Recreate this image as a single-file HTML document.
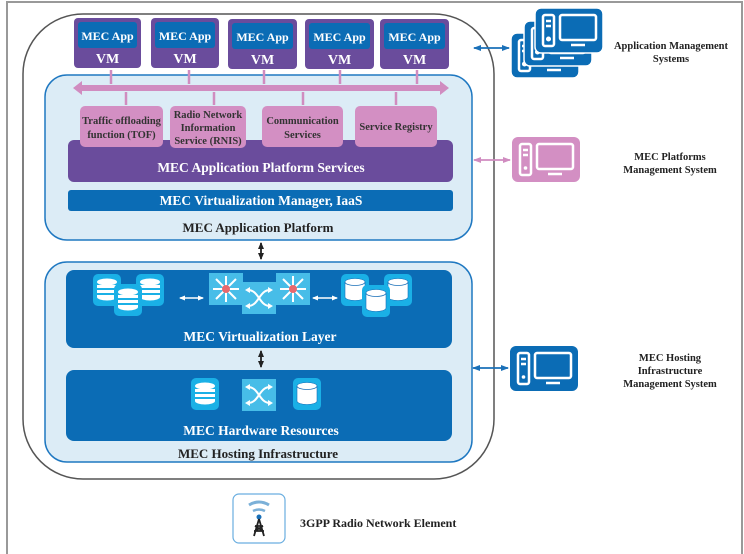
<!DOCTYPE html>
<html><head><meta charset="utf-8"><style>
html,body{margin:0;padding:0;background:#fff}
svg{display:block}
text{font-family:"Liberation Serif",serif;font-weight:bold}
</style></head><body>
<svg width="744" height="554" viewBox="0 0 744 554" xmlns="http://www.w3.org/2000/svg">
<defs>
<marker id="ab" markerUnits="userSpaceOnUse" markerWidth="8" markerHeight="8" refX="7" refY="4" orient="auto-start-reverse"><path d="M0,1 L8,4 L0,7 z" fill="#1a70b8"/></marker>
<marker id="ap" markerUnits="userSpaceOnUse" markerWidth="8" markerHeight="8" refX="7" refY="4" orient="auto-start-reverse"><path d="M0,1 L8,4 L0,7 z" fill="#d08cc0"/></marker>
<marker id="ak" markerUnits="userSpaceOnUse" markerWidth="7" markerHeight="7" refX="6" refY="3.5" orient="auto-start-reverse"><path d="M0,0.5 L7,3.5 L0,6.5 z" fill="#222"/></marker>
<marker id="aw" markerUnits="userSpaceOnUse" markerWidth="6" markerHeight="6" refX="5" refY="3" orient="auto-start-reverse"><path d="M0,0.5 L6,3 L0,5.5 z" fill="#fff"/></marker>
<g id="db"><rect x="0" y="0" width="28" height="32" rx="5" fill="#1ab0e6"/><ellipse cx="14" cy="8" rx="10" ry="3.5" fill="#fff"/><rect x="4" y="11" width="20" height="3" fill="#fff"/><rect x="4" y="16" width="20" height="3" fill="#fff"/><path d="M4,21 h20 v2 a10,3.5 0 0 1 -20,0z" fill="#fff"/></g>
<g id="cy"><rect x="0" y="0" width="28" height="32" rx="5" fill="#1ab0e6"/><path d="M4,8 a10,3.5 0 0 1 20,0 v15 a10,3.5 0 0 1 -20,0z" fill="#fff" stroke="#1a70b8" stroke-width="0.6"/><path d="M4,8 a10,3.5 0 0 0 20,0" fill="none" stroke="#1a70b8" stroke-width="0.8"/></g>
<g id="sw"><rect x="0" y="0" width="34" height="32" fill="#47bde8"/><path d="M6,8 C17,8 17,24 28,24 M6,24 C17,24 17,8 28,8" stroke="#fff" stroke-width="2" fill="none"/><path d="M3,8 l5,-3 v6z M3,24 l5,-3 v6z M31,8 l-5,-3 v6z M31,24 l-5,-3 v6z" fill="#fff"/></g>
<g id="rt"><rect x="0" y="0" width="34" height="32" fill="#47bde8"/><g stroke="#fff" stroke-width="2"><path d="M17,16 L17,3 M17,16 L17,29 M17,16 L4,16 M17,16 L30,16 M17,16 L7,6 M17,16 L27,6 M17,16 L7,26 M17,16 L27,26"/></g><circle cx="17" cy="16" r="4" fill="#e8686e"/></g>
<g id="pc"><rect x="0" y="0" width="68" height="45" rx="6"/><g fill="none" stroke="#fff" stroke-width="2.5"><rect x="8" y="7" width="11" height="31" rx="2"/><rect x="25" y="7" width="36" height="25" rx="2"/><path d="M36,37 h14"/></g><path d="M11,13 h5 M11,18 h5" stroke="#fff" stroke-width="2.5"/><circle cx="13.5" cy="31" r="1.8" fill="#fff"/></g>
</defs>
<rect x="7" y="2" width="735" height="560" fill="none" stroke="#999" stroke-width="2"/>
<rect x="23" y="14" width="471" height="465" rx="60" fill="#fff" stroke="#555" stroke-width="1.5"/>
<rect x="45" y="75" width="427" height="165" rx="22" fill="#dcecf6" stroke="#1f78c1" stroke-width="1.5"/>
<g font-size="12" fill="#fff" text-anchor="middle">
<rect x="74" y="18" width="67" height="50" rx="4" fill="#6a4c9c"/><rect x="78" y="22" width="59" height="26" rx="3" fill="#0b6cb5"/><text x="107.5" y="40" fill="#fff">MEC App</text><text x="107.5" y="63" font-size="14" fill="#fff">VM</text>
<rect x="151" y="18" width="68" height="50" rx="4" fill="#6a4c9c"/><rect x="155" y="22" width="60" height="26" rx="3" fill="#0b6cb5"/><text x="185" y="40" fill="#fff">MEC App</text><text x="185" y="63" font-size="14" fill="#fff">VM</text>
<rect x="228" y="19" width="69" height="50" rx="4" fill="#6a4c9c"/><rect x="232" y="23" width="61" height="26" rx="3" fill="#0b6cb5"/><text x="262.5" y="41" fill="#fff">MEC App</text><text x="262.5" y="64" font-size="14" fill="#fff">VM</text>
<rect x="305" y="19" width="69" height="50" rx="4" fill="#6a4c9c"/><rect x="309" y="23" width="61" height="26" rx="3" fill="#0b6cb5"/><text x="339.5" y="41" fill="#fff">MEC App</text><text x="339.5" y="64" font-size="14" fill="#fff">VM</text>
<rect x="380" y="19" width="69" height="50" rx="4" fill="#6a4c9c"/><rect x="384" y="23" width="61" height="26" rx="3" fill="#0b6cb5"/><text x="414.5" y="41" fill="#fff">MEC App</text><text x="414.5" y="64" font-size="14" fill="#fff">VM</text>
</g>
<g stroke="#d08cc0" stroke-width="2.5">
<line x1="111" y1="70" x2="111" y2="84"/><line x1="189" y1="70" x2="189" y2="84"/><line x1="264" y1="70" x2="264" y2="84"/><line x1="340" y1="70" x2="340" y2="84"/><line x1="417" y1="70" x2="417" y2="84"/>
<line x1="126" y1="92" x2="126" y2="105"/><line x1="214" y1="92" x2="214" y2="105"/><line x1="303" y1="92" x2="303" y2="105"/><line x1="396" y1="92" x2="396" y2="105"/>
</g>
<rect x="80" y="85" width="362" height="6" fill="#d08cc0"/>
<path d="M73,88 L82,81 L82,95z M449,88 L440,81 L440,95z" fill="#d08cc0"/>
<rect x="68" y="140" width="385" height="42" rx="6" fill="#6a4c9c"/>
<text x="261" y="172" font-size="13.5" fill="#fff" text-anchor="middle">MEC Application Platform Services</text>
<g fill="#d38fc3"><rect x="80" y="106" width="83" height="41" rx="5"/><rect x="170" y="106" width="76" height="42" rx="5"/><rect x="262" y="106" width="81" height="41" rx="5"/><rect x="355" y="106" width="82" height="41" rx="5"/></g>
<g font-size="10.5" fill="#333" text-anchor="middle">
<text x="121.5" y="124">Traffic offloading</text><text x="121.5" y="138">function (TOF)</text>
<text x="208" y="118">Radio Network</text><text x="208" y="131">Information</text><text x="208" y="144">Service (RNIS)</text>
<text x="302.5" y="124">Communication</text><text x="302.5" y="138">Services</text>
<text x="396" y="130">Service Registry</text>
</g>
<rect x="68" y="190" width="385" height="21" rx="3" fill="#0b6cb5"/>
<text x="261" y="205" font-size="13.5" fill="#fff" text-anchor="middle">MEC Virtualization Manager, IaaS</text>
<text x="258" y="232" font-size="13" fill="#222" text-anchor="middle">MEC Application Platform</text>
<line x1="261" y1="243" x2="261" y2="259" stroke="#222" stroke-width="1.8" marker-start="url(#ak)" marker-end="url(#ak)"/>
<rect x="45" y="262" width="427" height="200" rx="22" fill="#dcecf6" stroke="#1f78c1" stroke-width="1.5"/>
<rect x="66" y="270" width="386" height="78" rx="8" fill="#0b6cb5"/>
<use href="#db" x="93" y="274"/><use href="#db" x="136" y="274"/><use href="#db" x="114" y="284"/>
<line x1="180" y1="298" x2="203" y2="298" stroke="#fff" stroke-width="1.5" marker-start="url(#aw)" marker-end="url(#aw)"/>
<use href="#rt" x="209" y="273"/><use href="#rt" x="276" y="273"/><use href="#sw" x="242" y="282"/>
<line x1="313" y1="298" x2="337" y2="298" stroke="#fff" stroke-width="1.5" marker-start="url(#aw)" marker-end="url(#aw)"/>
<use href="#cy" x="341" y="274"/><use href="#cy" x="384" y="274"/><use href="#cy" x="362" y="285"/>
<text x="260" y="341" font-size="13.5" fill="#fff" text-anchor="middle">MEC Virtualization Layer</text>
<line x1="261" y1="351" x2="261" y2="367" stroke="#222" stroke-width="1.8" marker-start="url(#ak)" marker-end="url(#ak)"/>
<rect x="66" y="370" width="386" height="71" rx="8" fill="#0b6cb5"/>
<use href="#db" x="191" y="378"/><use href="#sw" x="242" y="379"/><use href="#cy" x="293" y="378"/>
<text x="261" y="435" font-size="13.5" fill="#fff" text-anchor="middle">MEC Hardware Resources</text>
<text x="258" y="458" font-size="13" fill="#222" text-anchor="middle">MEC Hosting Infrastructure</text>
<line x1="474" y1="48" x2="509" y2="48" stroke="#1a70b8" stroke-width="1.8" marker-start="url(#ab)" marker-end="url(#ab)"/>
<g stroke="#fff" stroke-width="1.5">
<use href="#pc" x="511" y="33" fill="#0b6cb5"/><use href="#pc" x="524" y="21" fill="#0b6cb5"/><use href="#pc" x="535" y="8" fill="#0b6cb5"/>
</g>
<text x="671" y="49" font-size="10.5" fill="#222" text-anchor="middle">Application Management</text>
<text x="671" y="62" font-size="10.5" fill="#222" text-anchor="middle">Systems</text>
<line x1="474" y1="160" x2="510" y2="160" stroke="#d08cc0" stroke-width="1.8" marker-start="url(#ap)" marker-end="url(#ap)"/>
<use href="#pc" x="512" y="137" fill="#d38fc3"/>
<text x="670" y="160" font-size="10.5" fill="#222" text-anchor="middle">MEC Platforms</text>
<text x="670" y="173" font-size="10.5" fill="#222" text-anchor="middle">Management System</text>
<line x1="473" y1="368" x2="508" y2="368" stroke="#1a70b8" stroke-width="1.8" marker-start="url(#ab)" marker-end="url(#ab)"/>
<use href="#pc" x="510" y="346" fill="#0b6cb5"/>
<text x="670" y="361" font-size="10.5" fill="#222" text-anchor="middle">MEC Hosting</text>
<text x="670" y="374" font-size="10.5" fill="#222" text-anchor="middle">Infrastructure</text>
<text x="670" y="387" font-size="10.5" fill="#222" text-anchor="middle">Management System</text>
<rect x="233" y="494" width="52" height="49" rx="6" fill="#fff" stroke="#6aaee0" stroke-width="1.2"/>
<path d="M249,505 q10,-6 20,0" stroke="#7bb0d8" stroke-width="3" fill="none"/>
<path d="M253,511 q6,-3 12,0" stroke="#7bb0d8" stroke-width="2.5" fill="none"/>
<circle cx="259" cy="517" r="2.5" fill="#1a70b8"/>
<path d="M259,519 L254,536 M259,519 L264,536 M255,526 h8 M254,531 h10 M255,526 L263,531 M263,526 L255,531" stroke="#222" stroke-width="1.8" fill="none"/>
<text x="300" y="527" font-size="12" fill="#222">3GPP Radio Network Element</text>
</svg>
</body></html>
